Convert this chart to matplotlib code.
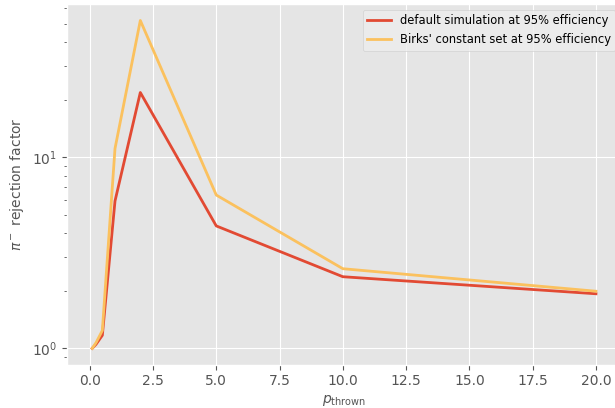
import numpy as np
import matplotlib
matplotlib.use("Agg")
import matplotlib.pyplot as plt

plt.style.use("ggplot")

p_thrown = [0.1, 0.25, 0.5, 1.0, 2.0, 5.0, 10.0, 20.0]
# pi- rejection factor
default_sim = [1.0, 1.05, 1.17, 5.9, 21.8, 4.37, 2.37, 1.93]
birks_sim = [1.0, 1.07, 1.24, 11.1, 51.9, 6.34, 2.61, 1.99]

fig = plt.figure(figsize=(6.15, 4.08), dpi=100)
ax = fig.add_axes([0.109, 0.106, 0.901, 0.884])
ax.plot(p_thrown, default_sim, color="#E24A33", lw=2, label="default simulation at 95% efficiency")
ax.plot(p_thrown, birks_sim, color="#FBC15E", lw=2, label="Birks' constant set at 95% efficiency")
ax.set_yscale("log")
ax.set_xlabel(r"$p_{\mathrm{thrown}}$", fontsize=10, labelpad=3)
ax.set_ylabel(r"$\pi^-$ rejection factor", fontsize=10)
ax.tick_params(labelsize=10)
leg = ax.legend(loc="upper right", fontsize=8.3)
leg.get_frame().set_facecolor("#ededed")
leg.get_frame().set_edgecolor("#cccccc")
fig.savefig("out.png", dpi=100)
